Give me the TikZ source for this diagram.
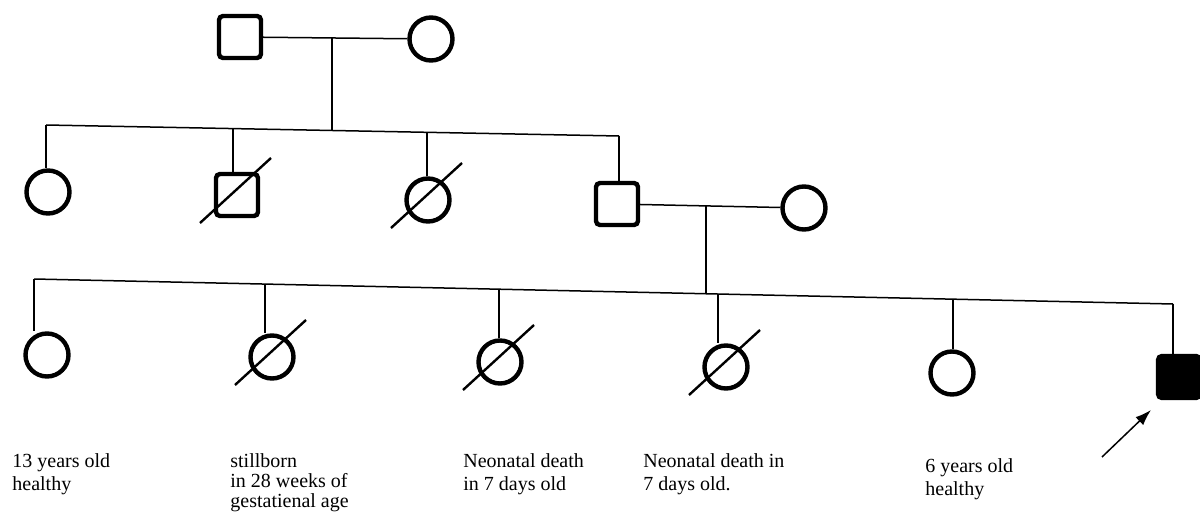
\documentclass[tikz,border=0pt]{standalone}
\usepackage{fontspec}
\setmainfont{Liberation Serif}
\usepackage{xcolor}
\usepackage{tikz}
\usetikzlibrary{arrows.meta, positioning, calc}

\tikzset{
  male/.style={draw, rectangle, rounded corners=2pt, minimum size=21pt, inner sep=0pt, line width=2.2pt},
  female/.style={draw, circle, minimum size=21.5pt, inner sep=0pt, line width=2.2pt},
  affected/.style={fill=black},
  link/.style={line width=0.75pt},
  slash/.style={line width=1.2pt},
  note/.style={anchor=north west, align=left, inner sep=0pt, font=\fontsize{10}{11.5}\selectfont}
}

\begin{document}
\begin{tikzpicture}[x=0.5pt, y=-0.5pt]
  \useasboundingbox (0,0) rectangle (1200,519);

  % Generation I
  \node[male] (I1) at (240,37) {};
  \node[female] (I2) at (431,39) {};
  \draw[link] (I1) -- (I2);
  \coordinate (m1) at (332,38);
  \coordinate (s1) at (332,130.5);
  \draw[link] (m1) -- (s1);

  % Generation II
  \coordinate (s2L) at (46,125);
  \coordinate (s2R) at (619,136);
  \draw[link] (s2L) -- (s2R);
  \node[female] (II1) at (48,192) {};
  \node[male] (II2) at (237,195) {};
  \node[female] (II3) at (428,200) {};
  \node[male] (II4) at (617,204) {};
  \node[female] (II5) at (804,208) {};
  \foreach \n/\dx in {II1/46, II2/233, II3/427, II4/619}
    \draw[link] ($(s2L)!{(\dx-46)/573}!(s2R)$) coordinate (t) -- (t |- \n.north);
  \draw[link] (II4) -- (II5);
  \coordinate (m2) at (706,206);
  \coordinate (s2) at (706,293.7);
  \draw[link] (m2) -- (s2);

  % Generation III
  \coordinate (s3L) at (34,279);
  \coordinate (s3R) at (1173,304);
  \draw[link] (s3L) -- (s3R);
  \node[female] (III1) at (47,355) {};
  \node[female] (III2) at (272,357) {};
  \node[female] (III3) at (500,362) {};
  \node[female] (III4) at (726,367) {};
  \node[female] (III5) at (952,373) {};
  \node[male, affected] (III6) at (1179,377) {};
  \foreach \n/\dx in {III1/34, III2/265, III3/499, III4/718, III5/953, III6/1173}
    \draw[link] ($(s3L)!{(\dx-34)/1139}!(s3R)$) coordinate (t) -- (t |- \n.north);

  % Deceased
  \foreach \n in {II2, II3, III2, III3, III4}
    \draw[slash] ($(\n)+(-37,28)$) -- ($(\n)+(34,-37)$);

  % Notes
  \node[note] (n1) at (12,453) {13 years old\\healthy};
  \node[note, font=\fontsize{10}{10}\selectfont] (n2) at (230,453) {stillborn\\in 28 weeks of\\gestatienal age};
  \node[note] (n3) at (463,453) {Neonatal death\\in 7 days old};
  \node[note] (n4) at (643,453) {Neonatal death in\\7 days old.};
  \node[note] (n5) at (925,458) {6 years old\\healthy};

  % Proband
  \coordinate (pa) at (1102,457);
  \coordinate (pb) at (1151,410);
  \draw[link, -{Latex[length=8pt, width=5.5pt]}] (pa) -- (pb);
\end{tikzpicture}
\end{document}
